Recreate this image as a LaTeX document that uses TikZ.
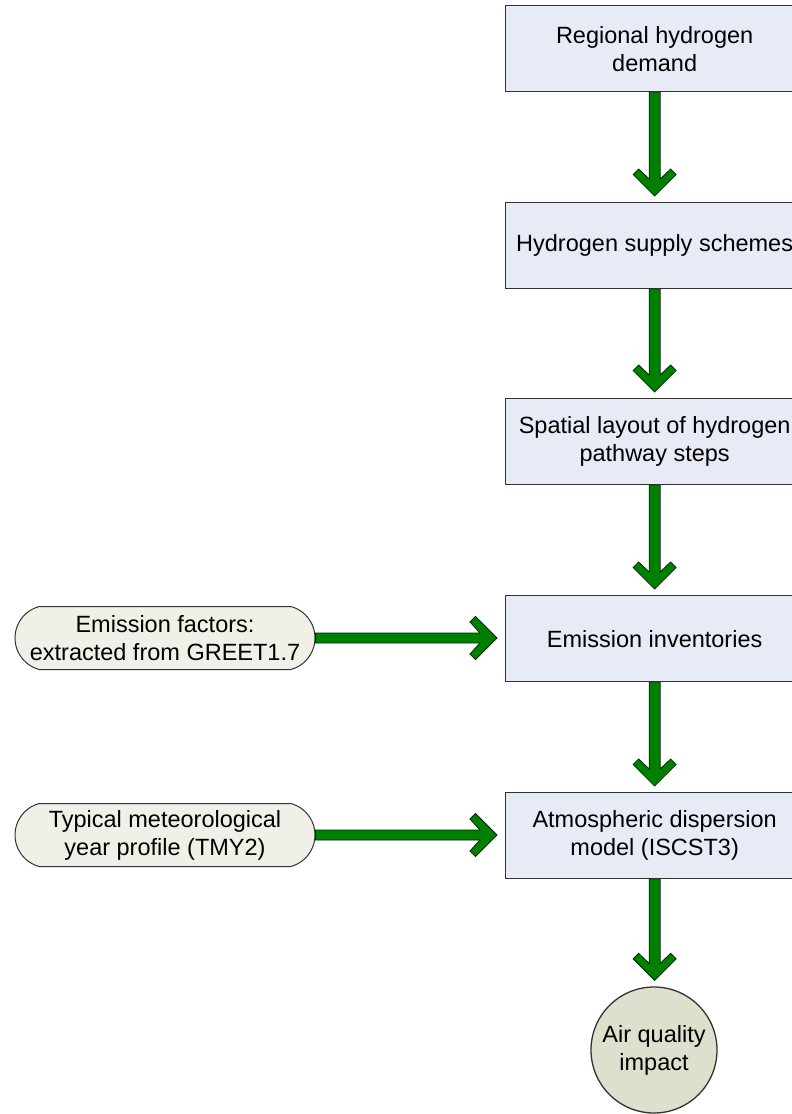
\documentclass[tikz,border=0pt]{standalone}
\usepackage{fontspec}
\setmainfont{Liberation Sans}
\usetikzlibrary{calc,shapes.misc}
\definecolor{boxfill}{RGB}{230,235,246}
\definecolor{pillfill}{RGB}{240,240,232}
\definecolor{circfill}{RGB}{221,224,204}
\definecolor{edgegray}{RGB}{50,50,50}
\definecolor{arrowgreen}{RGB}{0,128,0}
\definecolor{arrowedge}{RGB}{0,40,0}
\tikzset{
  stepbox/.style={draw=edgegray, line width=1.3pt, fill=boxfill, rectangle,
    minimum width=298pt, minimum height=86pt, inner sep=0pt, align=center,
    anchor=north west, font=\fontsize{23.5}{28}\selectfont},
  pill/.style={draw=edgegray, line width=1pt, fill=pillfill, rounded rectangle,
    rounded rectangle arc length=150, minimum width=300pt, minimum height=63pt,
    inner sep=0pt, align=center, font=\fontsize{23.5}{28}\selectfont},
  endcirc/.style={draw=edgegray, line width=1.3pt, fill=circfill, circle,
    minimum size=126pt, inner sep=0pt, align=center, font=\fontsize{23.5}{28}\selectfont},
  fatarrow/.style={fill=arrowgreen, draw=arrowedge, line width=0.8pt, line join=miter}
}
\newcommand\fatdown[2]{%
  \path let \p1=(#1.south), \p2=(#2.north) in
    [fatarrow] (\x1-5.5pt,\y1) -- (\x1-5.5pt,\y2+6pt+17pt) -- (\x1-16pt,\y2+6pt+27pt)
    -- (\x1-21.5pt,\y2+6pt+21.5pt) -- (\x1,\y2+6pt) -- (\x1+21.5pt,\y2+6pt+21.5pt)
    -- (\x1+16pt,\y2+6pt+27pt) -- (\x1+5.5pt,\y2+6pt+17pt) -- (\x1+5.5pt,\y1) -- cycle;}
\newcommand\fatright[2]{%
  \path let \p1=(#1.east), \p2=(#2.west), \n1={\x2-8pt} in
    [fatarrow] (\x1,\y1+5pt) -- (\n1-17pt,\y1+5pt) -- (\n1-27pt,\y1+16pt)
    -- (\n1-21.5pt,\y1+21.5pt) -- (\n1,\y1) -- (\n1-21.5pt,\y1-21.5pt)
    -- (\n1-27pt,\y1-16pt) -- (\n1-17pt,\y1-5pt) -- (\x1,\y1-5pt) -- cycle;}
\begin{document}
\begin{tikzpicture}[x=1pt,y=-1pt]
\useasboundingbox (0,0) rectangle (792,1114);
\node[stepbox] (b1) at (505,5) {Regional hydrogen\\demand};
\node[stepbox] (b2) at (505,202) {Hydrogen supply schemes};
\node[stepbox] (b3) at (505,398) {Spatial layout of hydrogen\\pathway steps};
\node[stepbox] (b4) at (505,595) {Emission inventories};
\node[stepbox] (b5) at (505,792) {Atmospheric dispersion\\model (ISCST3)};
\node[endcirc] (c) at (654,1050) {Air quality\\impact};
\node[pill] (p1) at (165,638) {Emission factors:\\extracted from GREET1.7};
\node[pill] (p2) at (165,835) {Typical meteorological\\year profile (TMY2)};
\fatdown{b1}{b2}
\fatdown{b2}{b3}
\fatdown{b3}{b4}
\fatdown{b4}{b5}
\fatdown{b5}{c}
\fatright{p1}{b4}
\fatright{p2}{b5}
\end{tikzpicture}
\end{document}
